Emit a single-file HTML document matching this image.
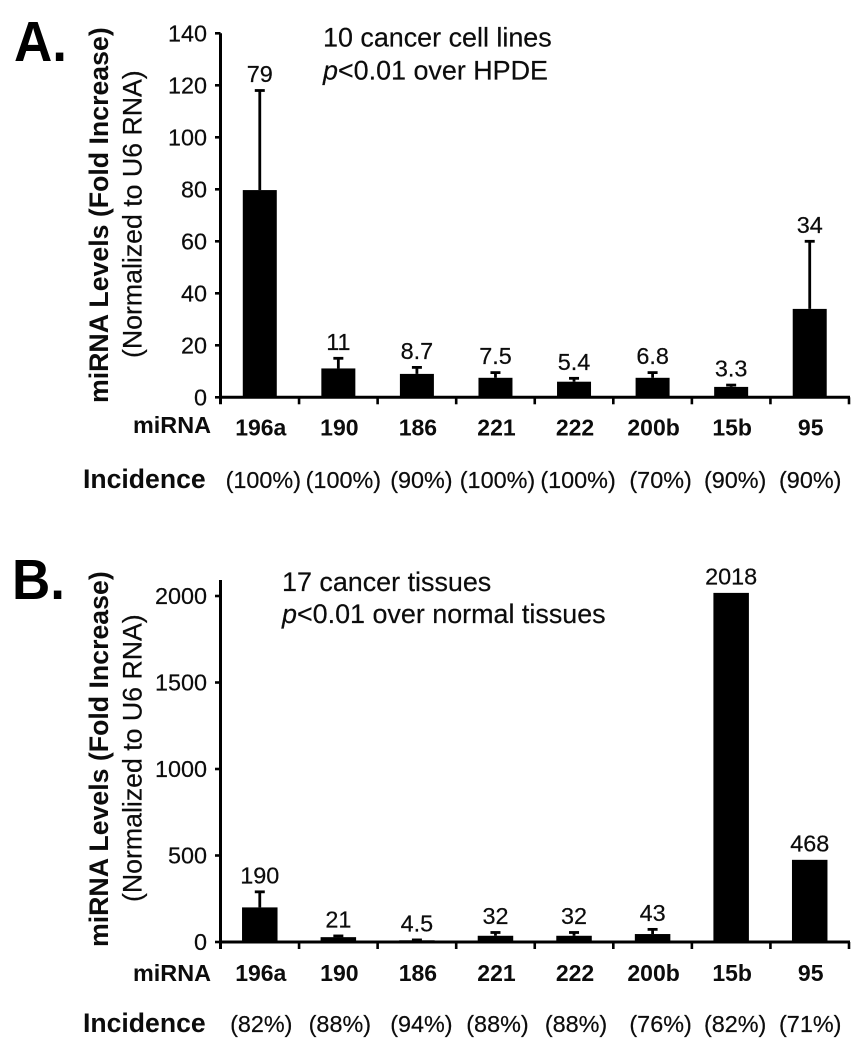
<!DOCTYPE html>
<html lang="en">
<head>
<meta charset="utf-8">
<title>miRNA fold increase in cancer cell lines and tissues</title>
<style>
  html, body { margin: 0; padding: 0; background: #fff; }
  svg { display: block; font-family: "Liberation Sans", Arial, sans-serif; fill: #0c0c0c; filter: blur(0.35px); }
  .panel-letter { font-weight: bold; font-size: 57px; fill: #000; }
  .title-bold { font-weight: bold; font-size: 26.7px; }
  .title-reg { font-size: 26.7px; stroke: #0c0c0c; stroke-width: 0.2px; }
  .note { font-size: 26.9px; stroke: #0c0c0c; stroke-width: 0.2px; }
  .row-head { font-weight: bold; font-size: 23.4px; }
  .inc-head { font-weight: bold; font-size: 26.6px; }
  .tick, .val, .inc { font-size: 23.4px; stroke: #0c0c0c; stroke-width: 0.2px; }
  .cat { font-weight: bold; font-size: 23px; }
</style>
</head>
<body>
<svg id="figure" width="856" height="1050" viewBox="0 0 856 1050" xmlns="http://www.w3.org/2000/svg">
  <rect x="0" y="0" width="856" height="1050" fill="#fff"/>

  <g id="panel-a">
    <text class="panel-letter" x="14" y="61" textLength="53" lengthAdjust="spacingAndGlyphs">A.</text>
    <text class="title-bold" transform="translate(108 403) rotate(-90)">miRNA Levels (Fold Increase)</text>
    <text class="title-reg" transform="translate(141.5 358) rotate(-90)">(Normalized to U6 RNA)</text>
    <text class="note" x="323" y="46.7">10 cancer cell lines</text>
    <text class="note" x="323" y="79.3"><tspan font-style="italic">p</tspan>&lt;0.01 over HPDE</text>
    <text class="row-head" x="133" y="433">miRNA</text>
    <text class="inc-head" x="83" y="488">Incidence</text>
  </g>

  <g id="panel-b">
    <text class="panel-letter" x="12" y="599" textLength="53" lengthAdjust="spacingAndGlyphs">B.</text>
    <text class="title-bold" transform="translate(108 947) rotate(-90)">miRNA Levels (Fold Increase)</text>
    <text class="title-reg" transform="translate(141.5 902) rotate(-90)">(Normalized to U6 RNA)</text>
    <text class="note" x="282" y="591">17 cancer tissues</text>
    <text class="note" x="282" y="623"><tspan font-style="italic">p</tspan>&lt;0.01 over normal tissues</text>
    <text class="row-head" x="133" y="981">miRNA</text>
    <text class="inc-head" x="83" y="1032">Incidence</text>
  </g>
</svg>

<script>
// ---- chart data ----
const categories = ['196a', '190', '186', '221', '222', '200b', '15b', '95'];

const valuesA = [79.7, 11.1, 9, 7.5, 6, 7.5, 4, 34];
const errorTopsA = [118, 15, 11.5, 9.5, 7.3, 9.5, 4.7, 60];
const printedA = ['79', '11', '8.7', '7.5', '5.4', '6.8', '3.3', '34'];
const incidenceA = ['(100%)', '(100%)', '(90%)', '(100%)', '(100%)', '(70%)', '(90%)', '(90%)'];
const yTicksA = [0, 20, 40, 60, 80, 100, 120, 140];

const valuesB = [200, 28, 10, 36, 36, 46, 2018, 475];
const errorTopsB = [290, 35, 12, 55, 55, 73, null, null];
const printedB = ['190', '21', '4.5', '32', '32', '43', '2018', '468'];
const incidenceB = ['(82%)', '(88%)', '(94%)', '(88%)', '(88%)', '(76%)', '(82%)', '(71%)'];
const yTicksB = [0, 500, 1000, 1500, 2000];

// ---- drawing ----
const NS = 'http://www.w3.org/2000/svg';

function shape(parent, tag, attrs, text) {
  const node = document.createElementNS(NS, tag);
  for (const k in attrs) node.setAttribute(k, attrs[k]);
  if (text !== undefined) node.textContent = text;
  parent.appendChild(node);
  return node;
}

function xBand(i, n, left, right) {
  return left + (right - left) * (i + 0.5) / n;
}

function drawPanel(group, cfg) {
  const left = 220.5, right = 849;
  const yScale = v => cfg.zeroY - (v - cfg.domainMin) * cfg.pxPerUnit;
  const xScale = i => xBand(i, cfg.categories.length, left, right);
  const xEdge = i => left + (right - left) * i / cfg.categories.length;

  // bars and error bars
  cfg.values.forEach((v, i) => {
    const cx = xScale(i);
    const top = yScale(v);
    const err = cfg.errorTops[i];
    if (err !== null) {
      const errY = yScale(err);
      const stem = shape(group, 'line', { x1: cx, x2: cx, y1: top, y2: errY, stroke: '#000', 'stroke-width': 2.8 });
      
      
      const cap = shape(group, 'line', { x1: cx - 5, x2: cx + 5, y1: errY, y2: errY, stroke: '#000', 'stroke-width': 2.8 });
      
      
    }
    const bar = shape(group, 'rect', { x: cx - cfg.barWidth / 2, y: top, width: cfg.barWidth, height: cfg.zeroY - top, fill: '#000' });
    
    

    const labelAnchor = err !== null ? yScale(err) : top;
    const label = shape(group, 'text', { class: 'val', x: cx, y: labelAnchor - 8.5, 'text-anchor': 'middle' }, cfg.printed[i]);
    
    

    const cat = shape(group, 'text', { class: 'cat', x: cx + 1, y: cfg.catBaseline, 'text-anchor': 'middle' }, cfg.categories[i]);
    
    

    const inc = shape(group, 'text', { class: 'inc', x: cx + cfg.incidenceShift[i], y: cfg.incBaseline, 'text-anchor': 'middle' }, cfg.incidence[i]);
    
    
  });

  // y axis
  const yAxis = shape(group, 'line', { x1: left, x2: left, y1: cfg.axisTop, y2: cfg.zeroY + 7, stroke: '#000', 'stroke-width': 3 });
  
  
  cfg.yTicks.forEach(t => {
    const y = yScale(t);
    const mark = shape(group, 'line', { x1: left - 5.5, x2: left, y1: y, y2: y, stroke: '#000', 'stroke-width': 2.6 });
    
    
    const lbl = shape(group, 'text', { class: 'tick', x: 207, y: y + 8, 'text-anchor': 'end' }, String(t));
    
    
  });

  // x axis
  const xAxis = shape(group, 'line', { x1: left, x2: right + 1, y1: cfg.zeroY, y2: cfg.zeroY, stroke: '#000', 'stroke-width': 3 });
  
  
  for (let i = 1; i <= cfg.categories.length; i++) {
    const x = xEdge(i);
    const mark = shape(group, 'line', { x1: x, x2: x, y1: cfg.zeroY, y2: cfg.zeroY + 7, stroke: '#000', 'stroke-width': 2.6 });
    
    
  }
}

drawPanel(document.getElementById('panel-a'), {
  categories: categories,
  values: valuesA,
  errorTops: errorTopsA,
  printed: printedA,
  incidence: incidenceA,
  yTicks: yTicksA,
  incidenceShift: [3.5, 5, 4.5, 2, 4, 8, 4, 0.5],
  domainMin: 0,
  pxPerUnit: 2.6,
  zeroY: 397.3,
  axisTop: 33.3,
  barWidth: 34,
  catBaseline: 435.7,
  incBaseline: 488
});

drawPanel(document.getElementById('panel-b'), {
  categories: categories,
  values: valuesB,
  errorTops: errorTopsB,
  printed: printedB,
  incidence: incidenceB,
  yTicks: yTicksB,
  incidenceShift: [1.5, 1.5, 4.5, 2, 2, 8, 4, 0.5],
  domainMin: 0,
  pxPerUnit: 0.173,
  zeroY: 942,
  axisTop: 580,
  barWidth: 35.5,
  catBaseline: 981,
  incBaseline: 1032
});
</script>
</body>
</html>
